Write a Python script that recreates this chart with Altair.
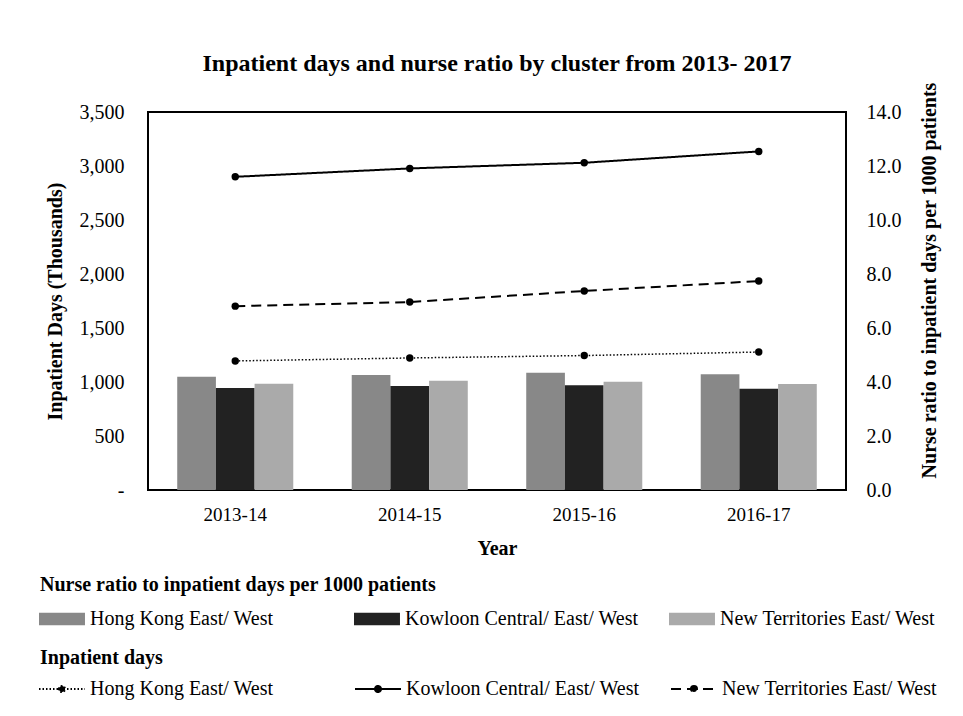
import altair as alt
import pandas as pd

years = ["2013-14", "2014-15", "2015-16", "2016-17"]
clusters = ["Hong Kong East/ West", "Kowloon Central/ East/ West", "New Territories East/ West"]

# Bars (left axis, thousands)
hk_days = [1049, 1065, 1086, 1071]
kl_days = [944, 963, 969, 938]
nt_days = [984, 1012, 1003, 981]

# Lines (right axis)
hk_ratio = [4.78, 4.89, 4.98, 5.11]
kl_ratio = [11.60, 11.91, 12.12, 12.54]
nt_ratio = [6.81, 6.96, 7.37, 7.74]

bar_colors = ["#888888", "#222222", "#aaaaaa"]
dash_styles = [[1.5, 2], [1, 0], [10, 6]]

bar_rows = []
for c, vals in zip(clusters, [hk_days, kl_days, nt_days]):
    for y, v in zip(years, vals):
        bar_rows.append({"Year": y, "Cluster": c, "Days": v})
bars_df = pd.DataFrame(bar_rows)

line_rows = []
for c, vals in zip(clusters, [hk_ratio, kl_ratio, nt_ratio]):
    for y, v in zip(years, vals):
        line_rows.append({"Year": y, "Series": c, "Ratio": v})
lines_df = pd.DataFrame(line_rows)

FONT = "Liberation Serif"
LEG_X = -108

x_enc = alt.X(
    "Year:N",
    sort=years,
    title="Year",
    scale=alt.Scale(paddingInner=0.335, paddingOuter=0.1675),
    axis=alt.Axis(
        labelAngle=0, labelFontSize=19, labelPadding=15, ticks=False, domain=False,
        titleFontSize=20, titleFontWeight="bold", titlePadding=14,
    ),
)

bars = alt.Chart(bars_df).mark_bar().encode(
    x=x_enc,
    xOffset=alt.XOffset("Cluster:N", sort=clusters, scale=alt.Scale(paddingInner=0)),
    y=alt.Y(
        "Days:Q",
        title="Inpatient Days (Thousands)",
        scale=alt.Scale(domain=[0, 3500], nice=False),
        axis=alt.Axis(
            values=[0, 500, 1000, 1500, 2000, 2500, 3000, 3500],
            labelExpr="datum.value == 0 ? '-' : format(datum.value, ',')",
            labelFontSize=20, labelPadding=24, ticks=False, domain=False, grid=False,
            titleFontSize=20, titleFontWeight="bold", titlePadding=14, orient="left",
        ),
    ),
    color=alt.Color(
        "Cluster:N",
        sort=clusters,
        scale=alt.Scale(domain=clusters, range=bar_colors),
        legend=alt.Legend(
            title="Nurse ratio to inpatient days per 1000 patients",
            orient="none", legendX=LEG_X, legendY=463, direction="horizontal",
            columns=3, gridAlign="all", columnPadding=30,
            symbolType="M-2,-1.15H6.36V1.15H-2Z", symbolSize=121, symbolStrokeWidth=0,
            symbolOpacity=1,
            labelFontSize=20, labelLimit=400, labelOffset=30,
            titleFontSize=20, titleFontWeight="bold", titlePadding=14, titleLimit=600,
        ),
    ),
)

ratio_y = alt.Y(
    "Ratio:Q",
    title="Nurse ratio to inpatient days per 1000 patients",
    scale=alt.Scale(domain=[0, 14], nice=False),
    axis=alt.Axis(
        values=[0, 2, 4, 6, 8, 10, 12, 14], format=".1f",
        labelFontSize=20, labelPadding=20, ticks=False, domain=False, grid=False,
        titleFontSize=20, titleFontWeight="bold", titlePadding=38, orient="right",
        titleAngle=270, titleY=168,
    ),
)

lines = alt.Chart(lines_df).mark_line(color="black").encode(
    x=alt.X("Year:N", sort=years),
    y=ratio_y,
    strokeDash=alt.StrokeDash(
        "Series:N",
        sort=clusters,
        scale=alt.Scale(domain=clusters, range=dash_styles),
        legend=alt.Legend(
            title="Inpatient days",
            orient="none", legendX=LEG_X, legendY=536, direction="horizontal",
            columns=3, gridAlign="all", columnPadding=27,
            symbolType="M-2,0H6.36M1.63,0A0.55,0.55 0 1,1 2.73,0A0.55,0.55 0 1,1 1.63,0",
            symbolSize=121, symbolStrokeWidth=2,
            symbolStrokeColor="black", symbolFillColor="black",
            labelFontSize=20, labelLimit=400, labelOffset=30,
            titleFontSize=20, titleFontWeight="bold", titlePadding=11,
        ),
    ),
    strokeWidth=alt.condition(
        alt.datum.Series == clusters[0], alt.value(1.5), alt.value(2)
    ),
)

points = alt.Chart(lines_df).mark_circle(color="black", size=55, opacity=1).encode(
    x=alt.X("Year:N", sort=years),
    y=ratio_y,
)

chart = alt.layer(bars, alt.layer(lines, points)).resolve_scale(
    y="independent", color="independent", strokeDash="independent"
).properties(
    width=698,
    height=378,
    title=alt.TitleParams(
        "Inpatient days and nurse ratio by cluster from 2013- 2017",
        fontSize=24, fontWeight="bold", frame="group", anchor="middle", offset=6,
        color="black",
    ),
    autosize=alt.AutoSizeParams(type="none"),
    padding={"left": 140, "top": 104, "right": 108, "bottom": 210},
).configure(
    font=FONT,
).configure_view(
    stroke="black", strokeWidth=2,
).configure_axis(
    labelColor="black", titleColor="black", labelFont=FONT, titleFont=FONT,
).configure_legend(
    labelColor="black", titleColor="black", labelFont=FONT, titleFont=FONT,
)

chart.save("out.html", embed_options={"renderer": "svg", "actions": False})
